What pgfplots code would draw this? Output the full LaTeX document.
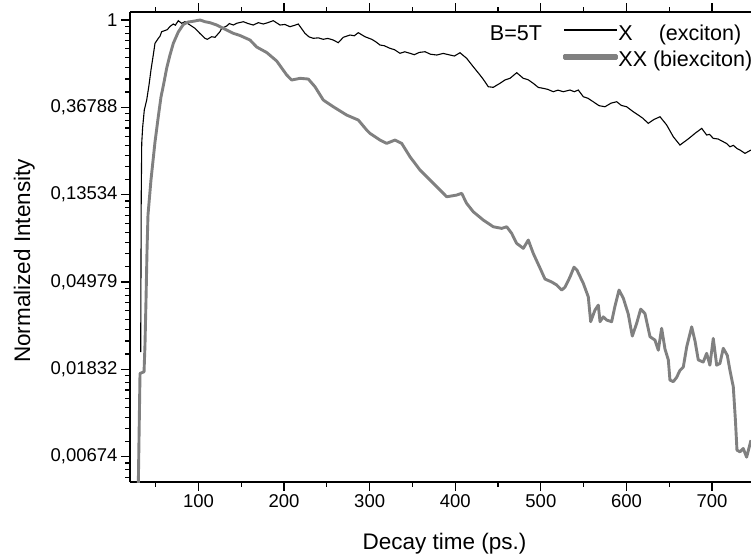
\documentclass[border=0pt]{standalone}
\usepackage{pgfplots}
\pgfplotsset{compat=1.18}
\usepackage{pgfplotstable}
\usepackage{fontspec}
\setmainfont{Liberation Sans}

\pgfplotstableread{
t v
32.5 0.0223
33.1 0.1272
33.7 0.2444
34.8 0.2935
36.7 0.3567
39.5 0.4000
42.2 0.4749
44.5 0.5640
47.2 0.6697
49.2 0.7657
53.1 0.8109
55.0 0.8300
57.0 0.8746
60.9 0.8867
63.5 0.8950
66.7 0.9282
70.6 0.9552
73.0 0.9420
76.4 0.992
80.4 0.9629
84.3 0.9807
90.1 0.9443
95.9 0.9093
101.8 0.8567
107.6 0.8109
110.3 0.8016
115.4 0.8259
119.3 0.8202
125.1 0.8746
127.1 0.9093
133.0 0.9336
136.0 0.9600
140.7 0.9443
144.6 0.9629
152.4 0.9807
158.0 0.9600
164.0 0.9443
170.0 0.9700
175.7 0.9552
181.0 0.9700
187.4 0.992
195.2 0.9443
201.0 0.9500
206.9 0.9262
212.0 0.9400
216.6 0.9552
224.4 0.8587
229.0 0.8250
234.1 0.8109
240.0 0.8150
245.8 0.8016
251.0 0.8100
257.5 0.7953
263.3 0.7711
269.2 0.8202
277.0 0.8421
282.0 0.8350
286.7 0.8646
294.5 0.8259
302.4 0.8016
307.0 0.7800
312.1 0.751
317.0 0.745
323.7 0.7231
329.0 0.7120
335.4 0.6829
341.0 0.6950
347.1 0.6829
352.0 0.6720
358.0 0.6900
364.6 0.6955
371.0 0.6760
378.3 0.6697
386.0 0.6820
393.8 0.6697
399.0 0.6620
405.5 0.6875
413.3 0.6449
421.0 0.5857
428.9 0.5326
433.0 0.5050
438.6 0.4658
444.4 0.4626
452.2 0.4843
458.0 0.5030
463.9 0.5128
471.8 0.5468
479.5 0.5128
485.0 0.5050
491.1 0.4843
497.0 0.4620
502.8 0.4573
508.0 0.4520
514.5 0.4399
520.0 0.4480
526.2 0.4399
534.0 0.4485
539.0 0.4400
543.7 0.4485
549.6 0.4154
555.0 0.4080
561.2 0.3922
568.0 0.3750
574.9 0.3704
582.0 0.3860
588.6 0.3922
594.0 0.3760
600.2 0.3704
608.0 0.3498
613.8 0.3368
619.0 0.3250
625.5 0.3063
632.0 0.3200
639.2 0.3303
647.0 0.3004
654.7 0.2627
662.5 0.2389
670.4 0.2529
675.0 0.2620
680.1 0.2731
687.9 0.2892
693.7 0.2679
697.0 0.2700
701.4 0.2579
707.0 0.2560
713.1 0.2481
717.0 0.2430
720.9 0.2343
725.0 0.2380
728.8 0.2300
733.0 0.2250
738.5 0.2172
745.5 0.2256
}\exciton

\pgfplotstableread{
t v
29.7 0.00486
31.7 0.01748
36.4 0.0178
37.5 0.02416
38.7 0.04046
39.9 0.07174
41.0 0.1071
44.5 0.1600
49.2 0.2472
53.3 0.3368
56.2 0.4140
59.1 0.4749
62.9 0.5770
66.7 0.6697
70.6 0.7657
76.4 0.8715
82.3 0.9498
87.8 0.9774
92.4 0.9830
101.8 1.0000
107.6 0.9807
113.5 0.9696
121.3 0.9443
129.0 0.9093
140.7 0.8587
148.5 0.8373
160.2 0.7953
168.0 0.7340
179.7 0.6892
191.4 0.6252
203.1 0.5326
208.9 0.5029
218.6 0.5128
228.3 0.5087
236.1 0.4658
245.8 0.4000
257.5 0.3704
273.1 0.3368
286.7 0.3181
296.5 0.2837
300.4 0.2731
312.1 0.2529
319.9 0.2435
329.6 0.2529
337.4 0.2435
347.1 0.2089
358.8 0.1794
370.5 0.1600
382.2 0.1427
390.0 0.1321
401.6 0.1347
407.5 0.1374
413.3 0.1225
421.0 0.1113
432.7 0.1012
444.4 0.0937
454.2 0.0920
460.1 0.0937
465.9 0.0869
471.7 0.0775
479.5 0.0732
485.3 0.0805
491.1 0.0691
499.0 0.0584
504.8 0.0515
512.6 0.0498
518.5 0.0481
524.3 0.0454
528.2 0.0469
534.0 0.0527
538.7 0.0590
542.2 0.0570
549.6 0.0490
555.4 0.0420
558.2 0.0316
563.2 0.0361
567.1 0.0382
569.1 0.0316
572.9 0.0334
576.9 0.0322
582.7 0.0316
586.6 0.0378
591.3 0.0454
596.3 0.0414
602.1 0.0345
606.8 0.0268
611.9 0.0310
616.6 0.0365
621.6 0.0347
627.5 0.0266
633.3 0.0256
637.2 0.0228
641.1 0.0293
645.0 0.0231
648.9 0.0204
650.8 0.0162
654.7 0.0159
658.6 0.0167
662.5 0.0181
666.4 0.0188
670.4 0.0237
676.2 0.0298
680.1 0.0253
683.9 0.0204
689.7 0.0199
693.7 0.0220
697.5 0.0192
701.4 0.0261
705.4 0.0192
709.2 0.0196
713.1 0.0233
717.8 0.0215
720.9 0.0181
724.8 0.0150
727.3 0.0102
729.1 0.00726
732.6 0.00712
736.4 0.0074
740.4 0.0067
745.5 0.00814
}\biexciton

\begin{document}
\begin{tikzpicture}[x=1pt,y=1pt]
\useasboundingbox (0,0) rectangle (751,556);
\begin{axis}[
  at={(130pt,74pt)}, anchor=south west,
  width=621pt, height=470pt, scale only axis,
  xmin=20, xmax=745.5,
  ymode=log, log basis y=e,
  ymin=0.00504, ymax=1.096,
  axis x line*=box, axis y line*=left,
  axis line style={line width=1.3pt},
  every tick/.style={black, line width=1.2pt},
  tick align=outside,
  major tick length=9pt, minor tick length=5pt,
  xtick={100,200,300,400,500,600,700},
  minor xtick={50,150,250,350,450,550,650},
  xticklabel pos=bottom,
  ytick={0.006738,0.018316,0.049787,0.135335,0.367879,1},
  yticklabels={{0,00674},{0,01832},{0,04979},{0,13534},{0,36788},{1}},
  minor ytick={0.005318,0.005791,0.006265,
    0.008024,0.009311,0.010597,0.011883,0.013170,0.014456,0.015743,0.017029,
    0.021812,0.025309,0.028806,0.032303,0.035800,0.039296,0.042793,0.046290,
    0.059292,0.068798,0.078303,0.087808,0.097314,0.106819,0.116324,0.125830,
    0.161173,0.187011,0.212849,0.238687,0.264525,0.290363,0.316201,0.342039,
    0.438115,0.508351,0.578587,0.648823,0.719059,0.789295,0.859531,0.929767},
  /pgf/number format/assume math mode=true,
  ticklabel style={font=\fontsize{18.5}{22}\selectfont},
  xlabel={Decay time (ps.)},
  ylabel={Normalized Intensity},
  every axis x label/.style={at={(axis description cs:0.5064,-0.1426)}, anchor=base,
    font=\fontsize{22.5}{27}\selectfont},
  every axis y label/.style={at={(axis description cs:-0.161,0.4702)}, anchor=base, rotate=90,
    font=\fontsize{22.5}{27}\selectfont},
  legend columns=2,
  legend cell align=left,
  legend style={at={(axis description cs:0.5797,0.9723)}, anchor=north west,
    draw=none, fill=none, inner sep=0pt, outer sep=0pt,
    font=\fontsize{21.5}{26}\selectfont,
    nodes={inner sep=0pt, text height=15pt, text depth=5pt},
    row sep=6pt,
    /tikz/every even column/.append style={column sep=21pt}},
  clip=true,
]
\addlegendimage{empty legend}
\addlegendentry{B=5T}
\addplot[black, line width=1.1pt,
  legend image code/.code={\path[draw=none] (0pt,0pt) -- (54pt,0pt);
    \fill[black] (0pt,4.5pt) rectangle (52pt,5.6pt);}]
  table[x=t, y=v] {\exciton};
\addlegendentry{X\hspace{26pt}(exciton)}
\addlegendimage{empty legend}
\addlegendentry{}
\addplot[gray, line width=2.9pt, line join=round,
  legend image code/.code={\path[draw=none] (0pt,0pt) -- (54pt,0pt);
    \fill[gray] (0pt,2.6pt) rectangle (52pt,5.5pt);}]
  table[x=t, y=v] {\biexciton};
\addlegendentry{XX (biexciton)}
\end{axis}
\end{tikzpicture}
\end{document}
